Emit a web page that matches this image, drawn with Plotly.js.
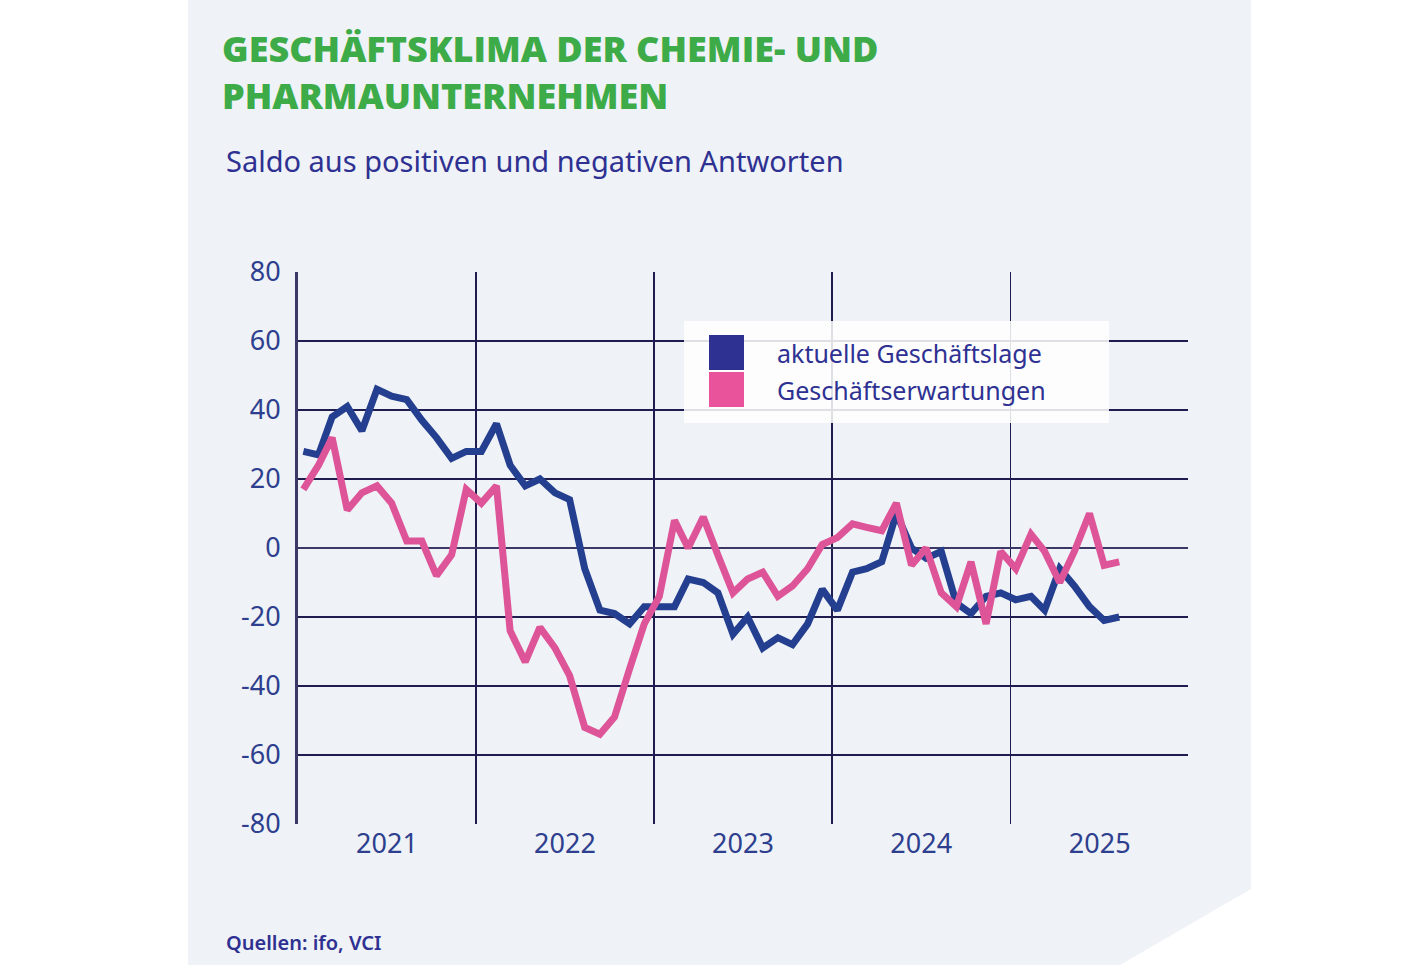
<!DOCTYPE html>
<html>
<head>
<meta charset="utf-8">
<script src="https://cdn.plot.ly/plotly-3.0.1.min.js"></script>
<style>
  html, body { margin: 0; padding: 0; background: #ffffff; }
  #chart { width: 1411px; height: 965px; }
</style>
</head>
<body>
<div id="chart"></div>
<script>
// ---- Data ----
const months = [
  "2021-01","2021-02","2021-03","2021-04","2021-05","2021-06","2021-07","2021-08","2021-09","2021-10","2021-11","2021-12",
  "2022-01","2022-02","2022-03","2022-04","2022-05","2022-06","2022-07","2022-08","2022-09","2022-10","2022-11","2022-12",
  "2023-01","2023-02","2023-03","2023-04","2023-05","2023-06","2023-07","2023-08","2023-09","2023-10","2023-11","2023-12",
  "2024-01","2024-02","2024-03","2024-04","2024-05","2024-06","2024-07","2024-08","2024-09","2024-10","2024-11","2024-12",
  "2025-01","2025-02","2025-03","2025-04","2025-05","2025-06","2025-07","2025-08"
];
const seriesNames = ["aktuelle Geschäftslage", "Geschäftserwartungen"];
const aktuelleLage = [
  28, 27, 38, 41, 34, 46, 44, 43, 37, 32, 26, 28,
  28, 36, 24, 18, 20, 16, 14, -6, -18, -19, -22, -17,
  -17, -17, -9, -10, -13, -25, -20, -29, -26, -28, -22, -12,
  -18, -7, -6, -4, 10, 0, -3, -1, -16, -19, -14, -13,
  -15, -14, -18, -6, -11, -17, -21, -20
];
const erwartungen = [
  17, 24, 32, 11, 16, 18, 13, 2, 2, -8, -2, 17,
  13, 18, -24, -33, -23, -29, -37, -52, -54, -49, -35, -22,
  -14, 8, 0, 9, -2, -13, -9, -7, -14, -11, -6, 1,
  3, 7, 6, 5, 13, -5, 0, -13, -17, -4, -22, -1,
  -6, 4, -1, -10, -1, 10, -5, -4
];
const yTicks = [-80, -60, -40, -20, 0, 20, 40, 60, 80];
const titleText = "GESCHÄFTSKLIMA DER CHEMIE- UND<br>PHARMAUNTERNEHMEN";
const subtitleText = "Saldo aus positiven und negativen Antworten";
const sourceText = "Quellen: ifo, VCI";

// ---- Styling ----
const BLUE = "#243f8f";
const PINK = "#dd5499";
const TEXT = "#2e3192";
const TICK = "#2d3f8e";
const GREEN = "#3dab48";
const FONT = "Noto Sans, sans-serif";

const xDates = months.map(m => m + "-12");

const traces = [
  { x: xDates, y: aktuelleLage, name: seriesNames[0], type: "scatter", mode: "lines",
    line: { color: BLUE, width: 7, shape: "linear" }, showlegend: false, hoverinfo: "x+y" },
  { x: xDates, y: erwartungen, name: seriesNames[1], type: "scatter", mode: "lines",
    line: { color: PINK, width: 7, shape: "linear" }, showlegend: false, hoverinfo: "x+y" }
];

// plot area: x 298..1188, y 272..824
const L = 298, R = 1188, T = 272, B = 824;
const px = v => (v - L) / (R - L);
const py = v => (B - v) / (B - T);

const panelPath = "M " + px(188) + " " + py(0) +
  " L " + px(1251) + " " + py(0) +
  " L " + px(1251) + " " + py(889) +
  " L " + px(1120) + " " + py(965) +
  " L " + px(188) + " " + py(965) + " Z";

const shapes = [
  { type: "path", xref: "paper", yref: "paper", path: panelPath,
    fillcolor: "#eff2f6", line: { width: 0 }, layer: "below" },
  // legend box
  { type: "rect", xref: "paper", yref: "paper", x0: px(684), x1: px(1109), y0: py(423), y1: py(321),
    fillcolor: "rgba(255,255,255,0.86)", line: { width: 0 }, layer: "above" },
  { type: "rect", xref: "paper", yref: "paper", x0: px(709), x1: px(744), y0: py(370), y1: py(335),
    fillcolor: "#2e3192", line: { width: 0 }, layer: "above" },
  { type: "rect", xref: "paper", yref: "paper", x0: px(709), x1: px(744), y0: py(407), y1: py(372),
    fillcolor: "#e8539c", line: { width: 0 }, layer: "above" }
];

const annotations = [
  { xref: "paper", yref: "paper", x: px(224), y: py(160), xanchor: "left", yanchor: "middle",
    text: subtitleText, showarrow: false, font: { family: FONT, size: 29, color: TEXT } },
  { xref: "paper", yref: "paper", x: px(224), y: py(942), xanchor: "left", yanchor: "middle",
    text: sourceText, showarrow: false, font: { family: FONT, size: 20, color: TEXT, weight: 600 } },
  { xref: "paper", yref: "paper", x: px(775), y: py(353), xanchor: "left", yanchor: "middle",
    text: seriesNames[0], showarrow: false, font: { family: FONT, size: 25, color: TEXT } },
  { xref: "paper", yref: "paper", x: px(775), y: py(390), xanchor: "left", yanchor: "middle",
    text: seriesNames[1], showarrow: false, font: { family: FONT, size: 25, color: TEXT } }
];

const layout = {
  width: 1411, height: 965,
  margin: { l: L, r: 1411 - R, t: T, b: 965 - B, pad: 0 },
  paper_bgcolor: "#ffffff",
  plot_bgcolor: "rgba(0,0,0,0)",
  showlegend: false,
  title: {
    text: titleText, x: 222 / 1411, xanchor: "left", xref: "container",
    y: 1 - 62 / 965, yanchor: "top", yref: "container",
    font: { family: "Open Sans, sans-serif", size: 36, color: GREEN, weight: 800 }
  },
  xaxis: {
    type: "date",
    range: ["2021-01-01", "2025-12-31"],
    tick0: "2021-01-01", dtick: "M12",
    ticklabelmode: "period",
    tickformat: "%Y",
    showgrid: true, gridcolor: "#1f1d4f", gridwidth: 1.3,
    showline: false, zeroline: false, ticks: "",
    ticklabelstandoff: 1,
    tickfont: { family: FONT, size: 27, color: TICK },
    fixedrange: true
  },
  yaxis: {
    range: [-80, 80],
    tickmode: "array", tickvals: yTicks, ticktext: yTicks.map(String),
    showgrid: true, gridcolor: "#1f1d4f", gridwidth: 1.3,
    zeroline: true, zerolinecolor: "#3b3866", zerolinewidth: 2.6,
    showline: true, linecolor: "#3b3866", linewidth: 3,
    ticks: "", ticklabelstandoff: 9,
    tickfont: { family: FONT, size: 27, color: TICK },
    fixedrange: true
  },
  shapes: shapes,
  annotations: annotations
};

Plotly.newPlot("chart", traces, layout, { displayModeBar: false, staticPlot: true });
</script>
</body>
</html>
